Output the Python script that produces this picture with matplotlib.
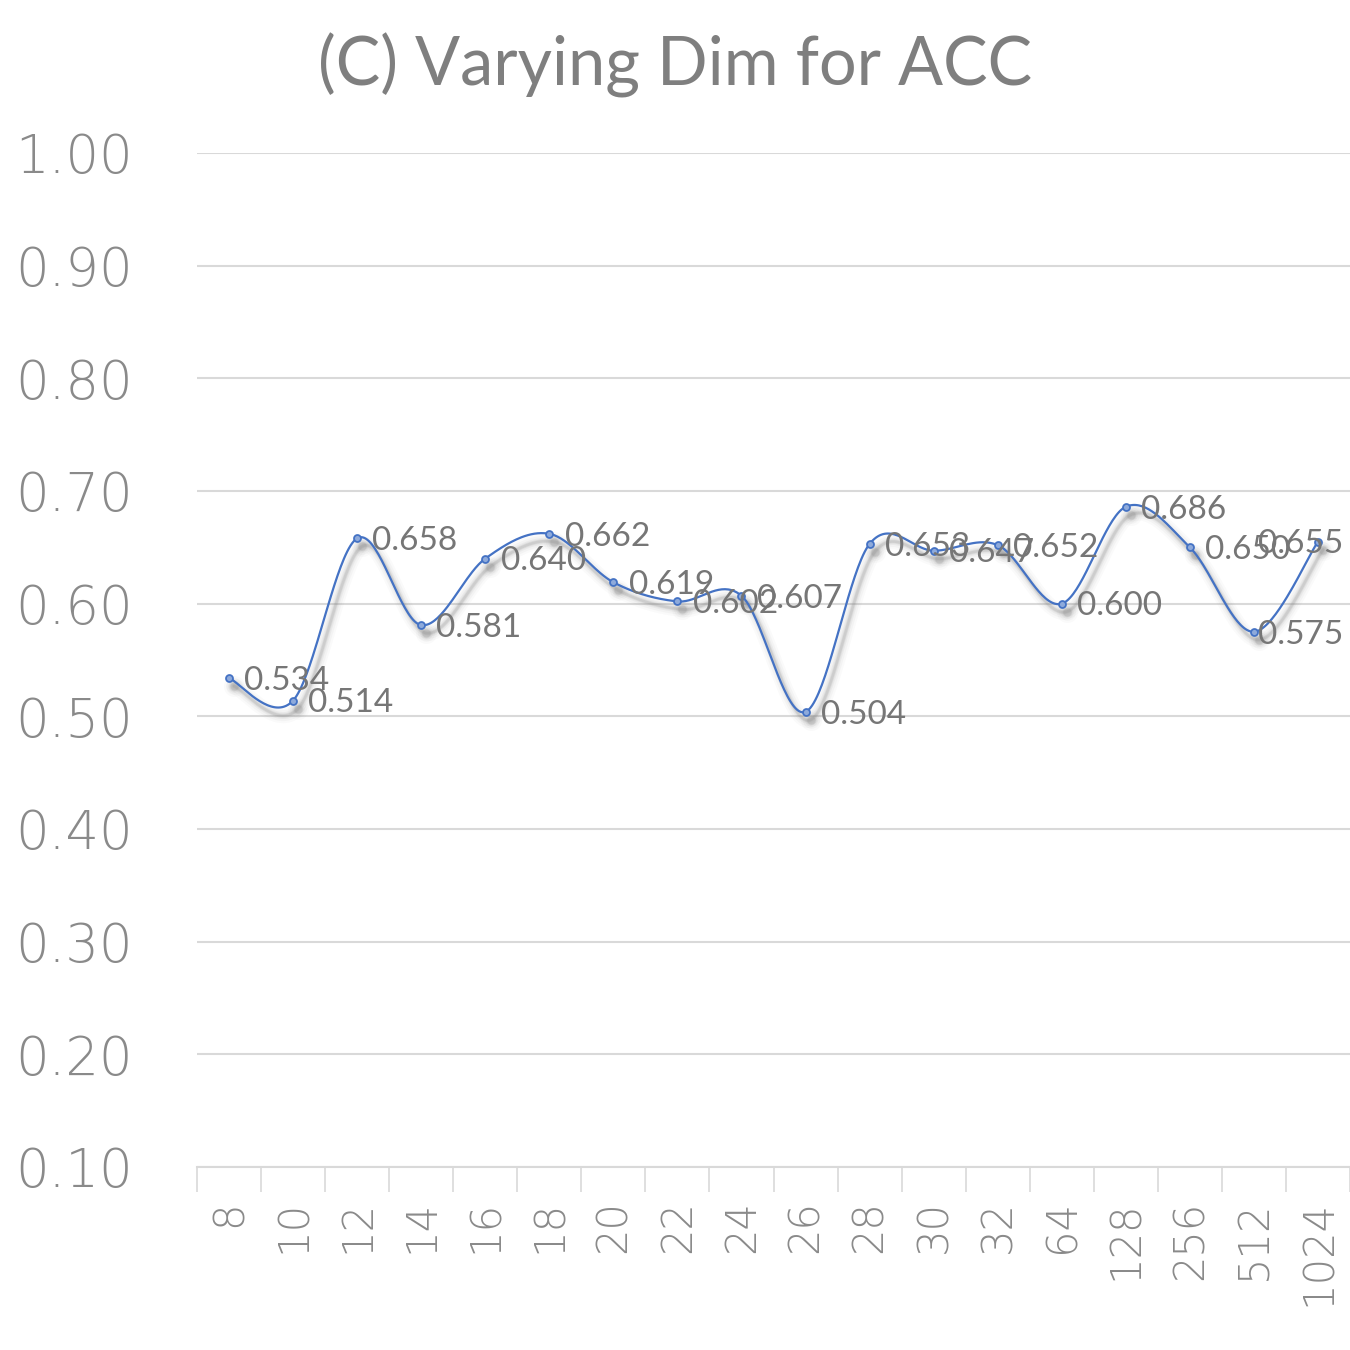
import numpy as np
import matplotlib.pyplot as plt
import matplotlib.transforms as mtransforms

# 차원별 ACC 값
dims = ['8', '10', '12', '14', '16', '18', '20', '22', '24', '26', '28', '30', '32', '64', '128', '256', '512', '1024']
acc = [0.534, 0.514, 0.658, 0.581, 0.640, 0.662, 0.619, 0.602, 0.607, 0.504,
       0.653, 0.647, 0.652, 0.600, 0.686, 0.650, 0.575, 0.655]
yticks = [0.10, 0.20, 0.30, 0.40, 0.50, 0.60, 0.70, 0.80, 0.90, 1.00]

line_color = '#4472c4'
text_color = '#7f7f7f'
grid_color = '#d9d9d9'


# 엑셀식 부드러운 선 (베지어 곡선)
def smooth_curve(xs, ys, steps=40):
    pts = np.column_stack([xs, ys]).astype(float)
    n = len(pts)
    out = []
    for i in range(n - 1):
        p0 = pts[i - 1] if i > 0 else pts[i]
        p1 = pts[i]
        p2 = pts[i + 1]
        p3 = pts[i + 2] if i + 2 < n else pts[i + 1]
        c1 = p1 + (p2 - p0) / 6
        c2 = p2 - (p3 - p1) / 6
        t = np.linspace(0, 1, steps)[:, None]
        seg = ((1 - t) ** 3) * p1 + 3 * ((1 - t) ** 2) * t * c1 + 3 * (1 - t) * t ** 2 * c2 + t ** 3 * p2
        out.append(seg if i == 0 else seg[1:])
    out = np.vstack(out)
    return out[:, 0], out[:, 1]


x = np.arange(len(dims))
sx, sy = smooth_curve(x, acc)

fig = plt.figure(figsize=(13.5, 13.5), dpi=100)
ax = fig.add_axes([197 / 1350, 183 / 1350, 1153 / 1350, 1014 / 1350])

# 그림자 (흐릿하게 여러 겹)
shadow = mtransforms.offset_copy(ax.transData, fig=fig, x=5, y=-8, units='dots')
for lw, a in [(11, 0.035), (8, 0.05), (5, 0.08), (3, 0.12), (1.8, 0.16)]:
    ax.plot(sx, sy, color='#7f7f7f', lw=lw, alpha=a, transform=shadow,
            solid_capstyle='round', zorder=2)
    ax.plot(x, acc, 'o', color='#7f7f7f', ms=4 + lw, alpha=a, mew=0,
            transform=shadow, zorder=2)

# 선과 점
ax.plot(sx, sy, color=line_color, lw=1.6, zorder=3)
ax.plot(x, acc, 'o', ms=5, mfc='#8eaadb', mec=line_color, mew=1.3, zorder=4)

# 데이터 레이블
labels = []
for xi, v in zip(x, acc):
    t = ax.annotate(f'{v:.3f}', (xi, v), xytext=(11, -2), textcoords='offset points',
                    ha='left', va='center', fontsize=24, color='#767676',
                    family=['Lato', 'DejaVu Sans'], zorder=5)
    labels.append(t)

# 축 설정
ax.set_xlim(-0.5, len(dims) - 0.5)
ax.set_ylim(0.1, 1.0)
ax.set_yticks(yticks)
ax.set_yticklabels([f'{v:.2f}' for v in yticks], fontweight='light')
ax.set_xticks(x)
ax.set_xticklabels(dims, rotation=90, va='top', ha='center', fontweight='light')
ax.set_xticks(np.arange(-0.5, len(dims)), minor=True)

ax.grid(axis='y', color=grid_color, lw=1.5, zorder=0)
ax.tick_params(axis='y', length=0, pad=46, labelsize=38, labelcolor='#8a8a8a')
ax.tick_params(axis='x', which='major', length=0, pad=24, labelsize=30, labelcolor='#8a8a8a')
ax.tick_params(axis='x', which='minor', length=18, width=1.2, color=grid_color)

for s in ['top', 'right', 'left']:
    ax.spines[s].set_visible(False)
ax.spines['bottom'].set_color(grid_color)
ax.spines['bottom'].set_linewidth(1.5)

# 제목
fig.text(0.5, 1 - 65 / 1350, '(C) Varying Dim for ACC', ha='center', va='center',
         fontsize=48, color=text_color, family=['Lato', 'DejaVu Sans'])

# 오른쪽 끝을 넘는 레이블은 안쪽으로 밀기 (엑셀처럼)
renderer = fig.canvas.get_renderer()
limit = 1343
for t in labels:
    bb = t.get_window_extent(renderer)
    if bb.x1 > limit:
        dx = (bb.x1 - limit) * 72 / fig.dpi
        t.xyann = (t.xyann[0] - dx, t.xyann[1])

fig.savefig('out.png', dpi=100)
